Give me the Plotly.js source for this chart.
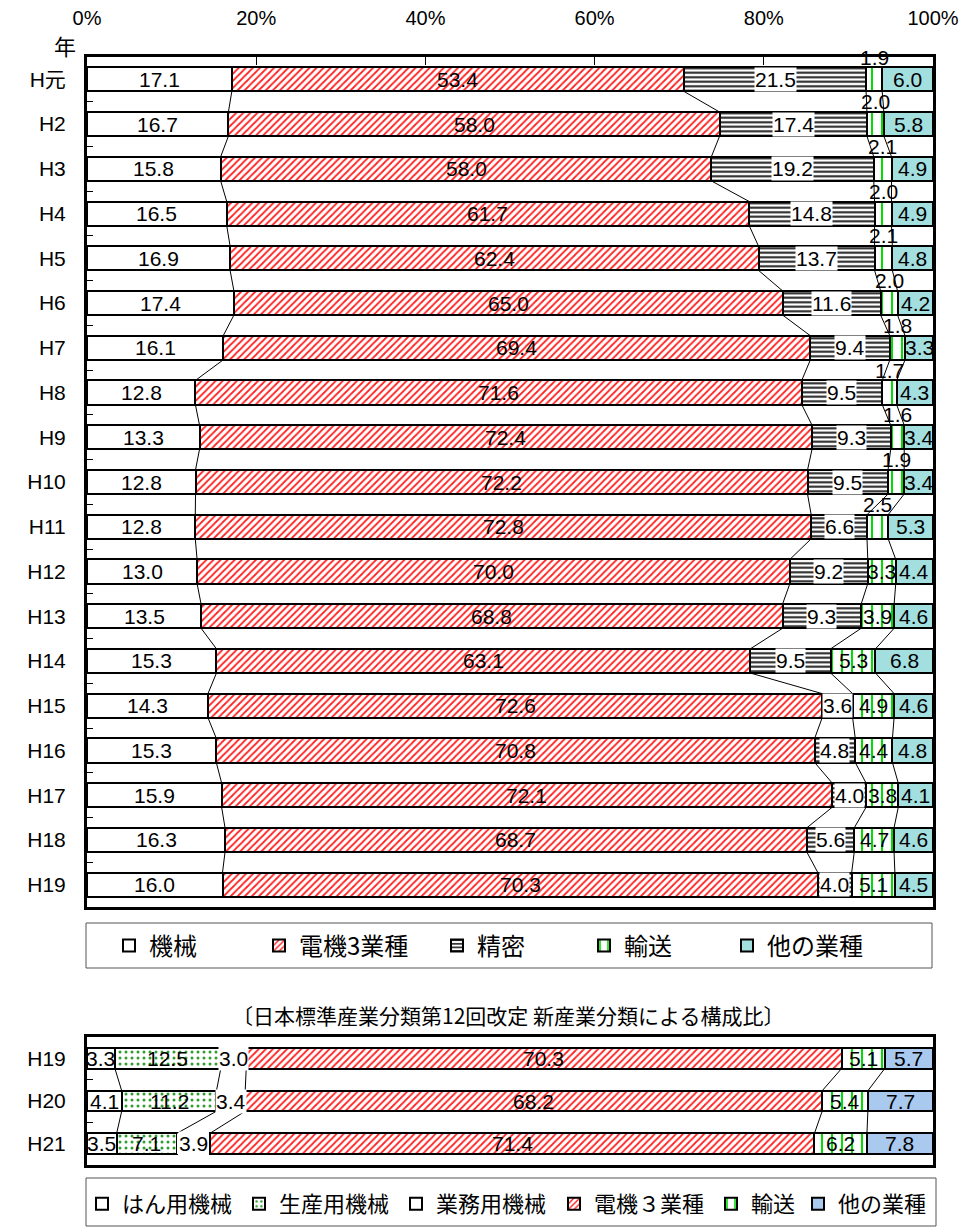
<!DOCTYPE html>
<html><head><meta charset="utf-8">
<script src="https://cdn.plot.ly/plotly-3.0.1.min.js"></script>
<style>html,body{margin:0;padding:0;background:#fff}#chart{width:979px;height:1229px}</style>
</head><body><div id="chart"></div>
<script>
// ---------- DATA ----------
const years = ['H元','H2','H3','H4','H5','H6','H7','H8','H9','H10','H11','H12','H13','H14','H15','H16','H17','H18','H19'];
const kikai    = [17.1,16.7,15.8,16.5,16.9,17.4,16.1,12.8,13.3,12.8,12.8,13.0,13.5,15.3,14.3,15.3,15.9,16.3,16.0];
const denki    = [53.4,58.0,58.0,61.7,62.4,65.0,69.4,71.6,72.4,72.2,72.8,70.0,68.8,63.1,72.6,70.8,72.1,68.7,70.3];
const seimitsu = [21.5,17.4,19.2,14.8,13.7,11.6,9.4,9.5,9.3,9.5,6.6,9.2,9.3,9.5,3.6,4.8,4.0,5.6,4.0];
const yuso     = [1.9,2.0,2.1,2.0,2.1,2.0,1.8,1.7,1.6,1.9,2.5,3.3,3.9,5.3,4.9,4.4,3.8,4.7,5.1];
const hoka     = [6.0,5.8,4.9,4.9,4.8,4.2,3.3,4.3,3.4,3.4,5.3,4.4,4.6,6.8,4.6,4.8,4.1,4.6,4.5];

const newYears = ['H19','H20','H21'];
const hanyo  = [3.3,4.1,3.5];
const seisan = [12.5,11.2,7.1];
const gyomu  = [3.0,3.4,3.9];
const denki2 = [70.3,68.2,71.4];
const yuso2  = [5.1,5.4,6.2];
const hoka2  = [5.7,7.7,7.8];

const topNames = ['機械','電機3業種','精密','輸送','他の業種'];
const bottomNames = ['はん用機械','生産用機械','業務用機械','電機３業種','輸送','他の業種'];
const xTickVals = [0,20,40,60,80,100];
const xTickText = ['0%','20%','40%','60%','80%','100%'];
const yearHeader = '年';
const subtitle = '〔日本標準産業分類第12回改定 新産業分類による構成比〕';

// ---------- STYLE ----------
const W = 979, H = 1229;
const py = v => 1 - v / H;
const pxx = v => v / W;
const NUM = "'Liberation Sans',Arial,'Noto Sans CJK JP',sans-serif";
const JP = "'Noto Sans CJK JP',sans-serif";
const BL = {color:'#000', width:2};
const st = {
  white: {color:'#ffffff', line:BL},
  red:   {color:'#ffffff', pattern:{shape:'/', fgcolor:'#ff2020', bgcolor:'#ffffff', size:5, solidity:0.35}, line:BL},
  hline: {color:'#ffffff', pattern:{shape:'-', fgcolor:'#202020', bgcolor:'#ffffff', size:4.5, solidity:0.45}, line:BL},
  vline: {color:'#ffffff', pattern:{shape:'|', fgcolor:'#00dd00', bgcolor:'#ffffff', size:10, solidity:0.2}, line:BL},
  teal:  {color:'#a4dfe0', line:BL},
  dots:  {color:'#ffffff', pattern:{shape:'.', fgcolor:'#2e9e2e', bgcolor:'#ffffff', size:6, solidity:0.2}, line:BL},
  plain: {color:'#ffffff', line:{color:'rgba(0,0,0,0)', width:0}},
  blue:  {color:'#a9c9ef', line:BL}
};
const topStyles = [st.white, st.red, st.hline, st.vline, st.teal];
const topLabelBg = [null, null, '#ffffff', null, null];
const botStyles = [st.white, st.dots, st.plain, st.red, st.vline, st.blue];
const botLabelBg = [null, null, '#ffffff', null, null, null];
const topBarW = 0.54, botBarW = 0.48;

const topSeries = [kikai, denki, seimitsu, yuso, hoka];
const botSeries = [hanyo, seisan, gyomu, denki2, yuso2, hoka2];

function cumRows(series){
  const n = series[0].length, rows = [];
  for (let i = 0; i < n; i++){
    const vals = series.map(s => s[i]);
    const tot = vals.reduce((a,b) => a+b, 0);
    let c = 0; const starts = [], ends = [];
    vals.forEach(v => { starts.push(c/tot*100); c += v; ends.push(c/tot*100); });
    rows.push({starts, ends});
  }
  return rows;
}
const topRows = cumRows(topSeries), botRows = cumRows(botSeries);

const traces = [];
const annotations = [];
const legendIds = [];
let legendCount = 0;
function nextLegend(){ legendCount++; const id = legendCount === 1 ? 'legend' : 'legend' + legendCount; legendIds.push(id); return id; }

function addChart(series, names, styles, labels, rows, xa, ya, bw, bgs, isTop){
  series.forEach((vals, s) => {
    const lid = nextLegend();
    const style = styles[s];
    const invisibleLine = style.line && style.line.width === 0;
    traces.push({
      type:'bar', orientation:'h', name:names[s], x:vals, y:labels.map((_,i)=>i),
      width:bw, xaxis:xa, yaxis:ya, marker:style, legend:lid, showlegend:!invisibleLine,
      hoverinfo:'skip'
    });
    if (invisibleLine){
      traces.push({type:'bar', orientation:'h', name:names[s], x:[null], y:[null], xaxis:xa, yaxis:ya,
        marker:{color:'#ffffff', line:BL}, legend:lid, showlegend:true, hoverinfo:'skip'});
    }
    vals.forEach((v, i) => {
      const above = isTop && s === 3 && v < 3;
      annotations.push({
        xref:xa, yref:ya, x:(rows[i].starts[s] + rows[i].ends[s]) / 2, y: above ? i - 0.5 : i,
        text:v.toFixed(1), showarrow:false, font:{family:NUM, size:21, color:'#000'},
        bgcolor: bgs[s] || 'rgba(0,0,0,0)', borderpad:0, xanchor:'center', yanchor:'middle'
      });
    });
  });
  // series lines
  const lx = [], ly = [];
  for (let k = 0; k < series.length - 1; k++){
    for (let i = 0; i < labels.length - 1; i++){
      lx.push(rows[i].ends[k], rows[i+1].ends[k], null);
      ly.push(i + bw/2, i + 1 - bw/2, null);
    }
  }
  traces.push({type:'scatter', mode:'lines', x:lx, y:ly, xaxis:xa, yaxis:ya,
    line:{color:'#000', width:1}, showlegend:false, hoverinfo:'skip'});
}

addChart(topSeries, topNames, topStyles, years, topRows, 'x', 'y', topBarW, topLabelBg, true);
addChart(botSeries, bottomNames, botStyles, newYears, botRows, 'x2', 'y2', botBarW, botLabelBg, false);

annotations.push({xref:'paper', yref:'paper', x:pxx(65), y:py(45), text:yearHeader, showarrow:false,
  font:{family:JP, size:22, color:'#000'}, xanchor:'center', yanchor:'middle'});
annotations.push({xref:'paper', yref:'paper', x:pxx(508), y:py(1015), text:subtitle, showarrow:false,
  font:{family:JP, size:21, color:'#000'}, xanchor:'center', yanchor:'middle'});

// ---------- LAYOUT ----------
const xDom = [pxx(87), pxx(933)];
const layout = {
  width:W, height:H, margin:{l:0, r:0, t:0, b:0}, paper_bgcolor:'#fff', plot_bgcolor:'#fff',
  barmode:'stack', barnorm:'percent', hovermode:false, showlegend:true,
  xaxis:{domain:xDom, anchor:'y', side:'top', range:[0,100], tickmode:'array', tickvals:xTickVals, ticktext:xTickText,
    ticks:'inside', ticklen:8, tickcolor:'#000', tickwidth:1, showgrid:false, zeroline:false,
    showline:true, mirror:true, linecolor:'#000', linewidth:3, ticklabelstandoff:21,
    tickfont:{family:NUM, size:20, color:'#000'}},
  yaxis:{domain:[py(907), py(57)], anchor:'x', range:[years.length - 0.5, -0.5], tickmode:'array', tickvals:years.map((_,i)=>i),
    ticktext:years, ticks:'', showgrid:false, zeroline:false, showline:true, mirror:true,
    linecolor:'#000', linewidth:3, ticklabelstandoff:14, tickfont:{family:NUM, size:21, color:'#000'},
    minor:{tickmode:'array', tickvals:years.slice(1).map((_,i)=>i+0.5), ticks:'inside', ticklen:6, tickcolor:'#000', tickwidth:1, showgrid:false}},
  xaxis2:{domain:xDom, anchor:'y2', range:[0,100], showticklabels:false, ticks:'', showgrid:false, zeroline:false,
    showline:true, mirror:true, linecolor:'#000', linewidth:3},
  yaxis2:{domain:[py(1165), py(1037)], anchor:'x2', range:[newYears.length - 0.5, -0.5], tickmode:'array', tickvals:newYears.map((_,i)=>i),
    ticktext:newYears, ticks:'', showgrid:false, zeroline:false, showline:true, mirror:true,
    linecolor:'#000', linewidth:3, ticklabelstandoff:14, tickfont:{family:NUM, size:21, color:'#000'},
    minor:{tickmode:'array', tickvals:newYears.slice(1).map((_,i)=>i+0.5), ticks:'inside', ticklen:6, tickcolor:'#000', tickwidth:1, showgrid:false}},
  annotations:annotations,
  shapes:[
    {type:'rect', xref:'paper', yref:'paper', x0:pxx(86), x1:pxx(932), y0:py(968), y1:py(923), line:{color:'#555', width:1}},
    {type:'rect', xref:'paper', yref:'paper', x0:pxx(86), x1:pxx(936), y0:py(1226), y1:py(1178), line:{color:'#555', width:1}}
  ]
};
// legend positions (icon centres, px)
const topLegendX = [129, 279, 457, 604, 747];
const botLegendX = [102, 259, 416, 574, 731, 818];
legendIds.forEach((id, j) => {
  const isTop = j < topNames.length;
  const cx = isTop ? topLegendX[j] : botLegendX[j - topNames.length];
  layout[id] = {x:pxx(cx - 20), y:py(isTop ? 946 : 1204), xanchor:'left', yanchor:'middle', orientation:'h',
    bgcolor:'rgba(0,0,0,0)', borderwidth:0, itemclick:false, itemdoubleclick:false,
    font:{family:JP, size:isTop ? 24 : 22, color:'#000'}};
});

Plotly.newPlot('chart', traces, layout, {staticPlot:true, displayModeBar:false});
</script>
</body></html>
